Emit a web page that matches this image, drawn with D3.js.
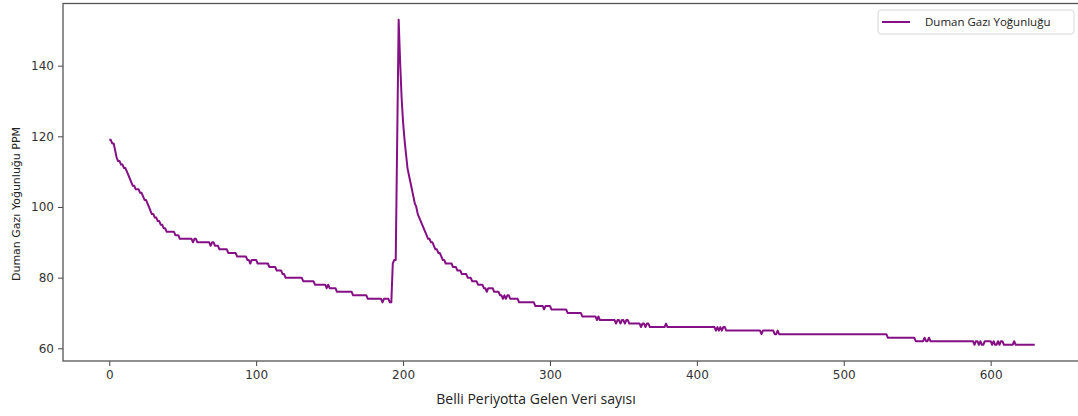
<!DOCTYPE html>
<html>
<head>
<meta charset="utf-8">
<script src="https://cdn.jsdelivr.net/npm/d3@7"></script>
<style>
  body { margin: 0; background: #ffffff; }
  svg { display: block; }
</style>
</head>
<body>
<div id="chart"></div>
<script>
// readings per sample index, stored as runs: value held for N samples
const runValues = [
  119, 118, 116, 114, 113, 112, 111, 110, 109, 108, 107, 106, 105, 104, 103, 102,
  101, 100, 99, 98, 97, 96, 95, 94, 93, 92, 91, 90, 91, 90, 89, 90, 89, 88, 87, 86,
  85, 84, 85, 84, 83, 82, 81, 80, 79, 78, 77, 78, 77, 76, 75, 74, 73, 74, 73,
  84, 85, 119, 153,
  141, 131, 124, 119, 115, 111, 109, 107, 105, 103, 101, 100, 98, 97, 96, 95, 94,
  93, 92, 91, 90, 89, 88, 87, 86, 85, 84, 83, 82, 81, 80, 79, 78, 77, 76, 77, 76,
  75, 74, 75, 74, 75, 74, 73, 72, 71, 72, 71, 70, 69, 68, 69, 68, 67, 68, 67, 68,
  67, 68, 67, 66, 67, 66, 67, 66, 67, 66, 65, 66, 65, 66, 65, 66, 65, 64, 65, 64,
  65, 64, 63, 62, 63, 62, 63, 62,
  61, 62, 61, 62, 61, 62, 61, 62, 61, 62, 61, 62, 61, 62, 61
];
const runLengths = [
  2, 2, 1, 1, 2, 2, 2, 1, 1, 1, 1, 2, 3, 2, 1, 2,
  1, 1, 1, 2, 2, 2, 2, 2, 6, 3, 9, 1, 2, 9, 1, 2, 3, 6, 6, 7,
  2, 1, 4, 8, 5, 4, 2, 12, 8, 8, 1, 1, 5, 11, 10, 10, 1, 4, 2,
  1, 2, 1, 1,
  1, 1, 1, 1, 1, 1, 1, 1, 1, 1, 1, 1, 1, 1, 1, 1, 1,
  1, 1, 2, 2, 1, 2, 2, 1, 2, 5, 3, 3, 4, 3, 4, 4, 2, 1, 4, 4,
  2, 1, 1, 1, 2, 6, 11, 6, 1, 4, 11, 10, 10, 1, 1, 11, 1, 2, 1, 2,
  1, 2, 8, 1, 2, 1, 2, 11, 1, 33, 1, 1, 1, 1, 1, 2, 24, 1, 8, 2,
  1, 74, 19, 6, 1, 2, 1, 30,
  1, 2, 1, 1, 2, 5, 1, 1, 2, 1, 1, 2, 7, 1, 14
];

const xTicks = [0, 100, 200, 300, 400, 500, 600];
const yTicks = [60, 80, 100, 120, 140];

const seriesName = "Duman Gazı Yoğunluğu";
const xLabel = "Belli Periyotta Gelen Veri sayısı";
const yLabel = "Duman Gazı Yoğunluğu PPM";

// expand runs into one reading per sample
const readings = [];
runValues.forEach((v, k) => {
  for (let j = 0; j < runLengths[k]; j++) readings.push(v);
});
const data = readings.map((v, i) => ({ i, v }));

const width = 1078,
  height = 416;
const plot = { left: 63, right: 1081, top: 3.5, bottom: 361 };

// matplotlib style 5% padding on both axes
const xMax = data.length - 1;
const yMin = d3.min(readings),
  yMax = d3.max(readings);
const xPad = xMax * 0.05,
  yPad = (yMax - yMin) * 0.05;

const xScale = d3
  .scaleLinear()
  .domain([-xPad, xMax + xPad])
  .range([plot.left, plot.right]);

const yScale = d3
  .scaleLinear()
  .domain([yMin - yPad, yMax + yPad])
  .range([plot.bottom, plot.top]);

const svg = d3
  .select("#chart")
  .append("svg")
  .attr("width", width)
  .attr("height", height);

svg.append("rect").attr("width", width).attr("height", height).attr("fill", "#ffffff");

svg
  .append("clipPath")
  .attr("id", "plotClip")
  .append("rect")
  .attr("x", plot.left)
  .attr("y", plot.top)
  .attr("width", plot.right - plot.left)
  .attr("height", plot.bottom - plot.top);

const line = d3
  .line()
  .x((d) => xScale(d.i))
  .y((d) => yScale(d.v));

svg
  .append("path")
  .datum(data)
  .attr("clip-path", "url(#plotClip)")
  .attr("fill", "none")
  .attr("stroke", "#850f85")
  .attr("stroke-width", 2)
  .attr("stroke-linejoin", "round")
  .attr("d", line);

// axes
const xAxis = d3.axisBottom(xScale).tickValues(xTicks).tickSize(5).tickPadding(4);
const yAxis = d3.axisLeft(yScale).tickValues(yTicks).tickSize(5).tickPadding(4);

const gx = svg
  .append("g")
  .attr("transform", `translate(0, ${plot.bottom})`)
  .call(xAxis);

const gy = svg
  .append("g")
  .attr("transform", `translate(${plot.left}, 0)`)
  .call(yAxis);

[gx, gy].forEach((g) => {
  g.select(".domain").remove();
  g.selectAll(".tick line").attr("stroke", "#444").attr("stroke-width", 1);
  g.selectAll(".tick text")
    .attr("fill", "#333")
    .style("font-family", "DejaVu Sans, sans-serif")
    .style("font-size", "12px");
});

// frame (spines)
svg
  .append("rect")
  .attr("x", plot.left)
  .attr("y", plot.top)
  .attr("width", plot.right - plot.left)
  .attr("height", plot.bottom - plot.top)
  .attr("fill", "none")
  .attr("stroke", "#555")
  .attr("stroke-width", 1.3);

// axis titles
svg
  .append("text")
  .attr("x", 536)
  .attr("y", 404)
  .attr("text-anchor", "middle")
  .style("font-family", "Open Sans, sans-serif")
  .style("font-size", "14px")
  .attr("fill", "#222")
  .text(xLabel);

svg
  .append("text")
  .attr("transform", `translate(20, 204) rotate(-90)`)
  .attr("text-anchor", "middle")
  .style("font-family", "DejaVu Sans, sans-serif")
  .style("font-size", "11px")
  .attr("fill", "#222")
  .text(yLabel);

// legend
const legend = svg.append("g").attr("transform", "translate(878, 10)");

legend
  .append("rect")
  .attr("width", 196)
  .attr("height", 24)
  .attr("rx", 3)
  .attr("fill", "#ffffff")
  .attr("stroke", "#d6d6d6")
  .attr("stroke-width", 1);

legend
  .append("line")
  .attr("x1", 4)
  .attr("x2", 32)
  .attr("y1", 12)
  .attr("y2", 12)
  .attr("stroke", "#850f85")
  .attr("stroke-width", 2);

legend
  .append("text")
  .attr("x", 47)
  .attr("y", 16)
  .style("font-family", "Open Sans, sans-serif")
  .style("font-size", "11.5px")
  .attr("fill", "#222")
  .text(seriesName);
</script>
</body>
</html>
